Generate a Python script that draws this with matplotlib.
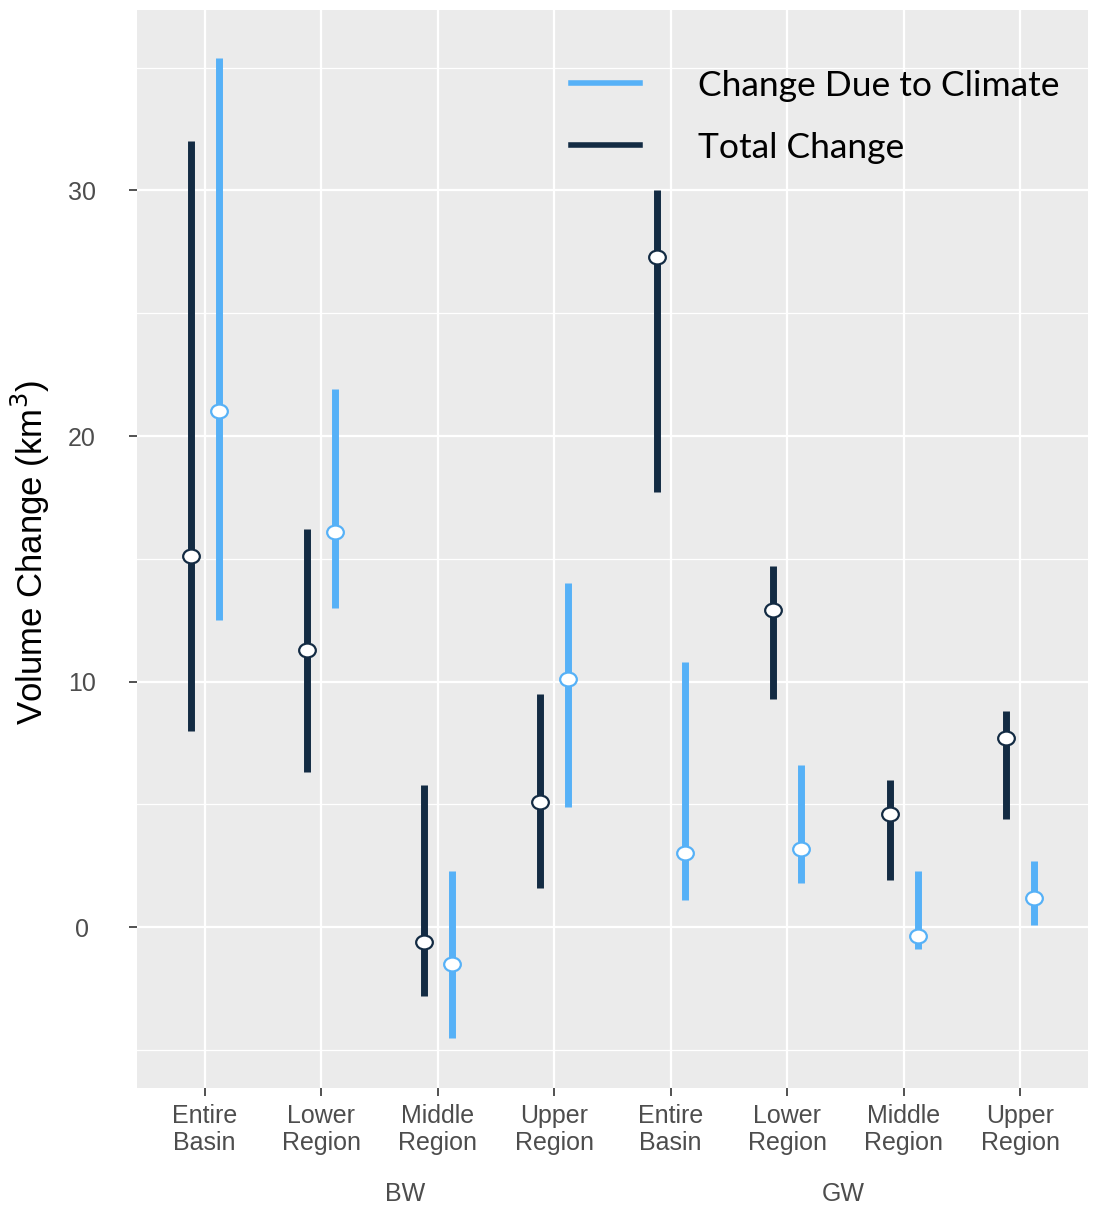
import numpy as np
import matplotlib
matplotlib.use("Agg")
import matplotlib.pyplot as plt
from matplotlib.ticker import MultipleLocator
from matplotlib.path import Path

regions = ['Entire\nBasin', 'Lower\nRegion', 'Middle\nRegion', 'Upper\nRegion'] * 2
groups = ['BW', 'GW']

# total change: estimate, low, high
total_mid = [15.1, 11.3, -0.6, 5.1, 27.3, 12.9, 4.6, 7.7]
total_lo = [8.0, 6.3, -2.8, 1.6, 17.7, 9.3, 1.9, 4.4]
total_hi = [32.0, 16.2, 5.8, 9.5, 30.0, 14.7, 6.0, 8.8]

# change due to climate
clim_mid = [21.0, 16.1, -1.5, 10.1, 3.0, 3.2, -0.35, 1.2]
clim_lo = [12.5, 13.0, -4.5, 4.9, 1.1, 1.8, -0.9, 0.1]
clim_hi = [35.4, 21.9, 2.3, 14.0, 10.8, 6.6, 2.3, 2.7]

dark = '#132B43'
light = '#56B1F7'

# slightly wide ellipse marker like the original
circ = Path.unit_circle()
ell = Path(circ.vertices * [1.2, 1.0], circ.codes)

fig = plt.figure(figsize=(10.94, 12.16), dpi=100)
ax = fig.add_axes([0.1252, 0.1053, 0.8693, 0.8865])
ax.set_facecolor('#EBEBEB')

x = np.arange(1, 9)
xd = x - 0.12
xl = x + 0.12

ax.vlines(xd, total_lo, total_hi, color=dark, lw=5, zorder=3)
ax.vlines(xl, clim_lo, clim_hi, color=light, lw=5, zorder=3)
ax.plot(xd, total_mid, ls='none', marker=ell, ms=12, mfc='white', mec=dark, mew=1.6, zorder=4)
ax.plot(xl, clim_mid, ls='none', marker=ell, ms=12, mfc='white', mec=light, mew=1.6, zorder=4)

# legend handles
ax.plot([], [], color=light, lw=4, label='Change Due to Climate')
ax.plot([], [], color=dark, lw=4, label='Total Change')
leg = ax.legend(loc='upper right', bbox_to_anchor=(1.004, 0.974), frameon=False,
                handlelength=1.95, handletextpad=1.65, labelspacing=0.84,
                prop={'family': ['Lato', 'DejaVu Sans'], 'size': 25.5})

ax.set_xlim(0.42, 8.58)
ax.set_ylim(-6.55, 37.35)
ax.set_xticks(x)
ax.set_xticklabels(regions)
ax.yaxis.set_minor_locator(MultipleLocator(5))
ax.set_yticks([0, 10, 20, 30])

ax.grid(which='major', color='white', lw=1.6, zorder=0)
ax.grid(which='minor', axis='y', color='white', lw=0.9, zorder=0)
ax.set_axisbelow(True)
for s in ax.spines.values():
    s.set_visible(False)

ax.tick_params(axis='both', which='major', length=5.5, width=1.2, color='#333333',
               labelcolor='#4D4D4D', labelsize=18)
ax.tick_params(axis='x', pad=6)
ax.tick_params(axis='y', pad=34)
ax.tick_params(axis='y', which='minor', length=0)
for lab in ax.get_xticklabels() + ax.get_yticklabels():
    lab.set_family(['Liberation Sans', 'DejaVu Sans'])
for lab in ax.get_xticklabels():
    lab.set_linespacing(1.15)
for lab in ax.get_yticklabels():
    lab.set_horizontalalignment('center')

ax.set_ylabel('Volume Change (km$^3$)', fontsize=25, color='black',
              family=['Liberation Sans Narrow', 'Liberation Sans', 'DejaVu Sans'])
ax.yaxis.set_label_coords(-0.089, 0.497)

for gx, g in zip([2.72, 6.48], groups):
    ax.text(gx, -0.0985, g, transform=ax.get_xaxis_transform(), ha='center', va='center',
            fontsize=18, color='#4D4D4D', family=['Liberation Sans', 'DejaVu Sans'])

fig.savefig('out.png', dpi=100)
